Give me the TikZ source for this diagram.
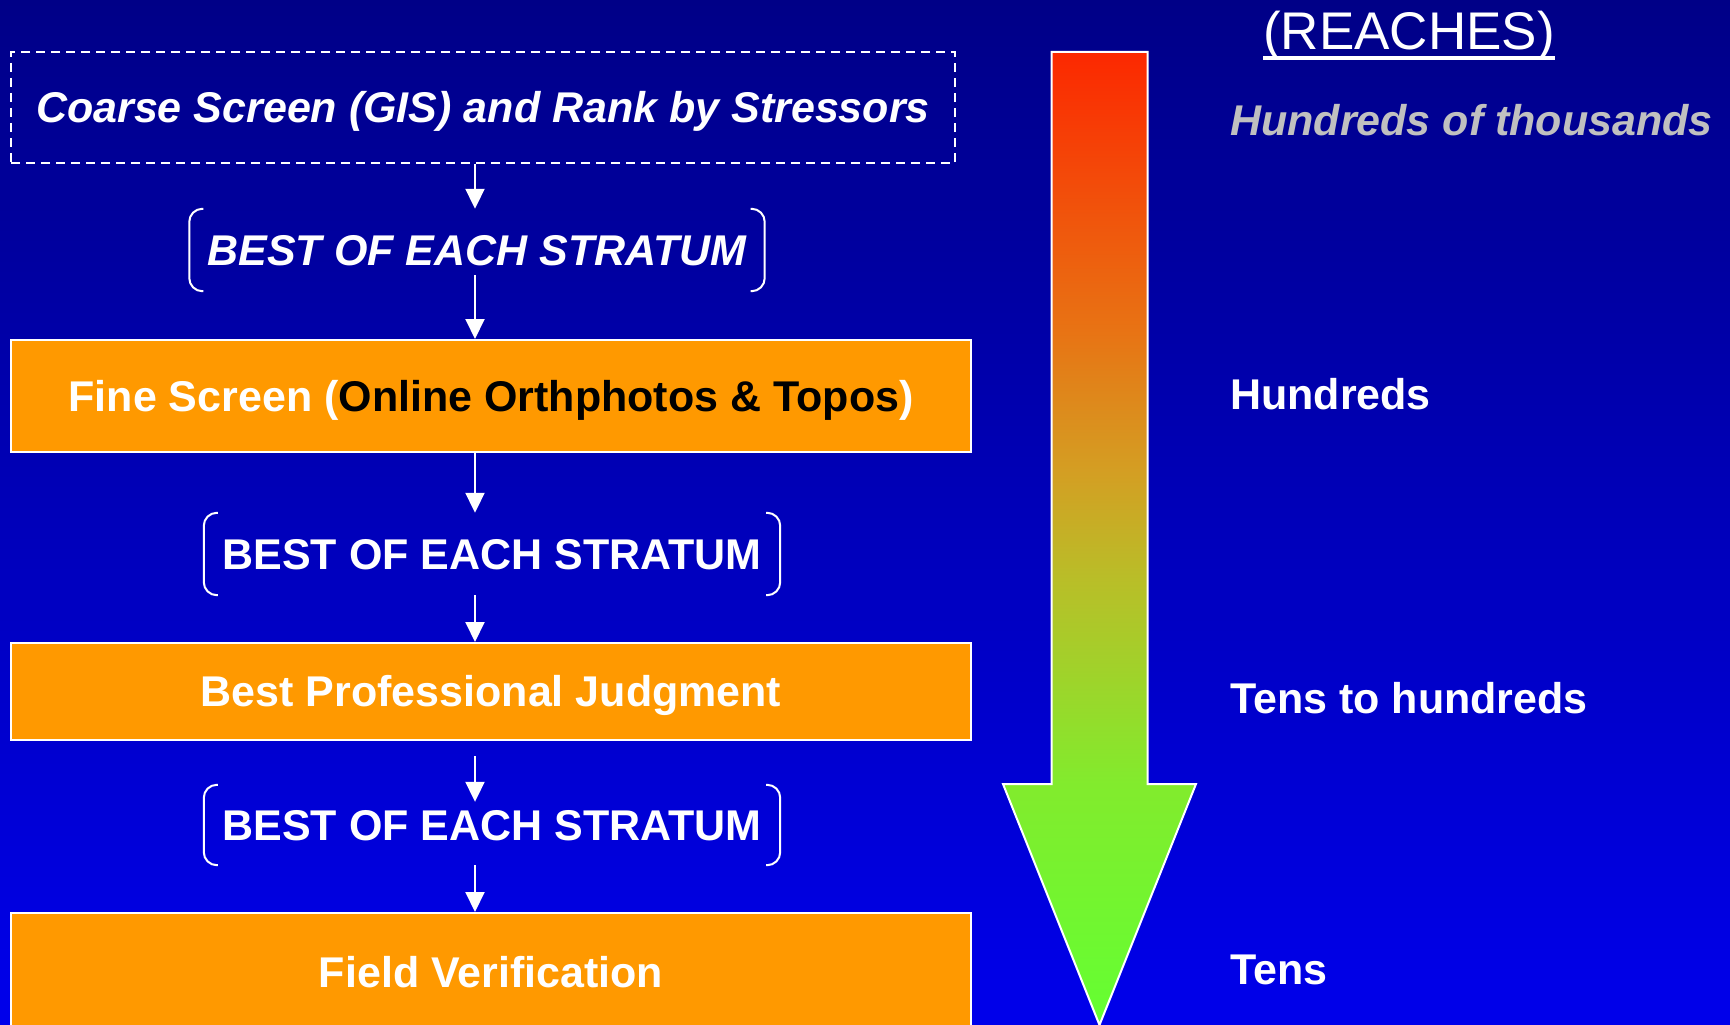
\documentclass[tikz,border=0pt]{standalone}
\usepackage{fontspec}
\setmainfont{Liberation Sans}
\usetikzlibrary{arrows.meta}
\definecolor{bgtop}{RGB}{0,0,135}
\definecolor{bgbot}{RGB}{0,0,235}
\definecolor{boxorange}{RGB}{255,153,0}
\definecolor{lblgray}{RGB}{192,192,192}
\pgfdeclareverticalshading{arrowshade}{100bp}{%
  rgb(0bp)=(0.392,1,0.196);
  rgb(25bp)=(0.392,1,0.196);
  rgb(37.4bp)=(0.51,0.922,0.176);
  rgb(47.9bp)=(0.725,0.745,0.157);
  rgb(53.5bp)=(0.831,0.62,0.137);
  rgb(60.7bp)=(0.91,0.451,0.078);
  rgb(75bp)=(0.988,0.157,0);
  rgb(100bp)=(0.988,0.157,0)}
\tikzset{
  txt/.style={text=white, font=\fontsize{43}{51}\selectfont\bfseries,
    inner sep=0pt, text height=30.5pt, text depth=0pt},
  dashbox/.style={txt, text depth=-4pt, draw=white, line width=2pt, dash pattern=on 9pt off 6pt,
    minimum width=944pt, minimum height=111pt},
  orangebox/.style={txt, text depth=-3pt, fill=boxorange, draw=white, line width=2pt,
    minimum width=960pt},
  brknode/.style={txt, minimum width=576pt},
  bracketline/.style={draw=white, line width=2pt, rounded corners=13pt},
  arr/.style={draw=white, line width=2pt, -{Triangle[length=20pt,width=19pt]}},
  lbl/.style={txt, anchor=base west},
  bigarrow/.style={shade, shading=arrowshade, draw=white, line width=2pt}
}
\begin{document}
\begin{tikzpicture}[x=1pt,y=-1pt]
\useasboundingbox (0,0) rectangle (1730,1025);
\shade[top color=bgtop,bottom color=bgbot] (0,0) rectangle (1730,1025);
\coordinate (axis) at (475,0);

% left column
\node[dashbox] (coarse) at (483,107.5) {\itshape Coarse Screen (GIS) and Rank by Stressors};
\node[brknode, minimum width=575pt, minimum height=82pt] (b1) at (477,250) {\itshape BEST OF EACH STRATUM};
\node[orangebox, minimum height=112pt] (fine) at (491,396) {Fine Screen (\textcolor{black}{Online Orthphotos \& Topos})};
\node[brknode, minimum height=82pt] (b2) at (492,554) {BEST OF EACH STRATUM};
\node[orangebox, minimum height=97pt] (bpj) at (491,691.5) {Best Professional Judgment};
\node[brknode, minimum height=80pt] (b3) at (492,825) {BEST OF EACH STRATUM};
\node[orangebox, minimum height=118pt] (field) at (491,972) {Field Verification};

% brackets
\foreach \b in {b1,b2,b3}{
  \draw[bracketline] ([xshift=14pt]\b.north west) -- (\b.north west) -- (\b.south west) -- ([xshift=14pt]\b.south west);
  \draw[bracketline] ([xshift=-14pt]\b.north east) -- (\b.north east) -- (\b.south east) -- ([xshift=-14pt]\b.south east);
}

% connectors
\draw[arr] (coarse.south -| axis) -- (b1.north -| axis);
\draw[arr] ([yshift=16pt]b1.south -| axis) -- (fine.north -| axis);
\draw[arr] (fine.south -| axis) -- (b2.north -| axis);
\draw[arr] (b2.south -| axis) -- (bpj.north -| axis);
\draw[arr] ([yshift=-15pt]bpj.south -| axis) -- ([yshift=-17pt]b3.north -| axis);
\draw[arr] (b3.south -| axis) -- (field.north -| axis);

% big gradient arrow
\path[bigarrow] (1051.5,52) -- (1147.5,52) -- (1147.5,784) -- (1196,784)
  -- (1099.5,1025) -- (1003,784) -- (1051.5,784) -- cycle;

% right labels
\node[txt, anchor=base, font=\fontsize{53}{60}\selectfont] (reaches) at (1409,50) {(REACHES)};
\draw[white, line width=3.5pt] ([yshift=-8pt]reaches.base west) -- ([yshift=-8pt]reaches.base east);
\node[lbl, text=lblgray] (l1) at (1230,135) {\itshape Hundreds of thousands};
\node[lbl] (l2) at (1230,409) {Hundreds};
\node[lbl] (l3) at (1230,713) {Tens to hundreds};
\node[lbl] (l4) at (1230,984) {Tens};
\end{tikzpicture}
\end{document}
